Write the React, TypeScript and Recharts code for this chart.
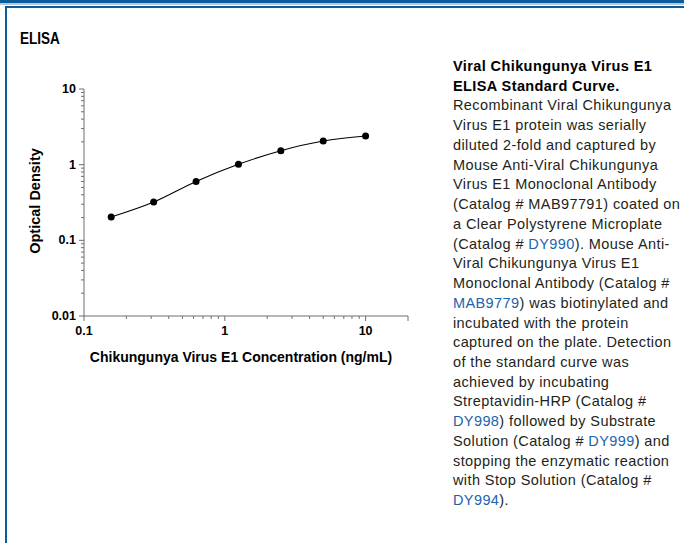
import React from "react";
import { LineChart, Line, XAxis, YAxis } from "recharts";

const concentrations = [0.156, 0.3125, 0.625, 1.25, 2.5, 5, 10];
const opticalDensity = [0.203, 0.32, 0.6, 1.01, 1.53, 2.05, 2.39];

const xMajorTicks = [0.1, 1, 10];
const xTicks = [0.1, 0.2, 0.3, 0.4, 0.5, 0.6, 0.7, 0.8, 0.9, 1, 2, 3, 4, 5, 6, 7, 8, 9, 10, 20];
const yMajorTicks = [0.01, 0.1, 1, 10];
const yTicks = [
  0.01, 0.02, 0.03, 0.04, 0.05, 0.06, 0.07, 0.08, 0.09,
  0.1, 0.2, 0.3, 0.4, 0.5, 0.6, 0.7, 0.8, 0.9,
  1, 2, 3, 4, 5, 6, 7, 8, 9, 10,
];

const sectionTitle = "ELISA";
const xTitle = "Chikungunya Virus E1 Concentration (ng/mL)";
const yTitle = "Optical Density";

type Seg = { t: string; link?: boolean };
const captionTitle = ["Viral Chikungunya Virus E1", "ELISA Standard Curve."];
const captionLines: Seg[][] = [
  [{ t: "Recombinant Viral Chikungunya" }],
  [{ t: "Virus E1 protein was serially" }],
  [{ t: "diluted 2-fold and captured by" }],
  [{ t: "Mouse Anti-Viral Chikungunya" }],
  [{ t: "Virus E1 Monoclonal Antibody" }],
  [{ t: "(Catalog # MAB97791) coated on" }],
  [{ t: "a Clear Polystyrene Microplate" }],
  [{ t: "(Catalog # " }, { t: "DY990", link: true }, { t: "). Mouse Anti-" }],
  [{ t: "Viral Chikungunya Virus E1" }],
  [{ t: "Monoclonal Antibody (Catalog #" }],
  [{ t: "MAB9779", link: true }, { t: ") was biotinylated and" }],
  [{ t: "incubated with the protein" }],
  [{ t: "captured on the plate. Detection" }],
  [{ t: "of the standard curve was" }],
  [{ t: "achieved by incubating" }],
  [{ t: "Streptavidin-HRP (Catalog #" }],
  [{ t: "DY998", link: true }, { t: ") followed by Substrate" }],
  [{ t: "Solution (Catalog # " }, { t: "DY999", link: true }, { t: ") and" }],
  [{ t: "stopping the enzymatic reaction" }],
  [{ t: "with Stop Solution (Catalog #" }],
  [{ t: "DY994", link: true }, { t: ")." }],
];

const data = concentrations.map((c, i) => ({ x: c, y: opticalDensity[i] }));

const FONT = "'Liberation Sans', Arial, Helvetica, sans-serif";
const AXIS_COLOR = "#6e6e6e";

const XTick = (props: any) => {
  const { x, y, payload } = props;
  const v = payload.value;
  const major = xMajorTicks.includes(v) || v === 20;
  const showLabel = xMajorTicks.includes(v);
  return (
    <g>
      <line x1={x} x2={x} y1={y} y2={y + (major ? 5 : 3)} stroke={AXIS_COLOR} strokeWidth={1} />
      {showLabel && (
        <text x={x} y={y + 15} textAnchor="middle" dominantBaseline="central" fontFamily={FONT} fontWeight="bold" fontSize={12.5} fill="#000">
          {String(v)}
        </text>
      )}
    </g>
  );
};

const YTick = (props: any) => {
  const { x, y, payload } = props;
  const v = payload.value;
  const major = yMajorTicks.includes(v);
  return (
    <g>
      <line x1={x} x2={x - (major ? 5 : 3)} y1={y} y2={y} stroke={AXIS_COLOR} strokeWidth={1} />
      {major && (
        <text x={x - 8} y={y} textAnchor="end" dominantBaseline="central" fontFamily={FONT} fontWeight="bold" fontSize={12.5} fill="#000">
          {String(v)}
        </text>
      )}
    </g>
  );
};

export default function App() {
  return (
    <div style={{ position: "absolute", left: 0, top: 0, width: 684, height: 543, overflow: "hidden", background: "#fff", fontFamily: FONT }}>
      <div style={{ position: "absolute", left: 0, top: 0, width: 684, height: 3, background: "#0a5c9c" }} />
      <div style={{ position: "absolute", left: 0, top: 3, width: 684, height: 2, background: "#b9c6d3" }} />
      <div style={{ position: "absolute", left: 5, top: 6, width: 700, height: 600, borderLeft: "2px solid #0a5c9c", borderTop: "2px solid #0a5c9c", boxSizing: "border-box" }} />
      <div style={{ position: "absolute", left: 20, top: 28, fontSize: 16.5, fontWeight: "bold", color: "#000", lineHeight: "20px", transform: "scaleX(0.82)", transformOrigin: "left center" }}>{sectionTitle}</div>

      <div style={{ position: "absolute", left: 0, top: 0 }}>
        <LineChart width={440} height={380} data={data} margin={{ top: 89, right: 32, bottom: 34, left: 24 }}>
          <XAxis
            dataKey="x"
            type="number"
            scale="log"
            domain={[0.1, 20]}
            allowDataOverflow
            ticks={xTicks}
            interval={0}
            tick={<XTick />}
            tickLine={false}
            tickSize={0}
            tickMargin={0}
            height={30}
            axisLine={{ stroke: AXIS_COLOR, strokeWidth: 1 }}
          />
          <YAxis
            dataKey="y"
            type="number"
            scale="log"
            domain={[0.01, 10]}
            allowDataOverflow
            ticks={yTicks}
            interval={0}
            tick={<YTick />}
            tickLine={false}
            tickSize={0}
            tickMargin={0}
            width={60}
            axisLine={{ stroke: AXIS_COLOR, strokeWidth: 1 }}
          />
          <Line
            dataKey="y"
            type="monotone"
            stroke="#000"
            strokeWidth={1.1}
            dot={{ r: 3.5, fill: "#000", stroke: "#000", strokeWidth: 0 }}
            isAnimationActive={false}
          />
        </LineChart>
      </div>

      <div style={{ position: "absolute", left: 35, top: 201, transform: "translate(-50%, -50%) rotate(-90deg)", whiteSpace: "nowrap", fontSize: 14.5, fontWeight: "bold", color: "#000" }}>
        {yTitle}
      </div>
      <div style={{ position: "absolute", left: 241, top: 357, transform: "translate(-50%, -50%)", whiteSpace: "nowrap", fontSize: 14, fontWeight: "bold", color: "#000" }}>
        {xTitle}
      </div>

      <div style={{ position: "absolute", left: 453, top: 57, fontSize: 14.5, letterSpacing: "0.4px", lineHeight: "19.73px", color: "#231f20", whiteSpace: "nowrap" }}>
        {captionTitle.map((l, i) => (
          <div key={"t" + i} style={{ fontWeight: "bold", color: "#000" }}>{l}</div>
        ))}
        {captionLines.map((segs, i) => (
          <div key={"l" + i}>
            {segs.map((s, j) => (
              <span key={j} style={s.link ? { color: "#1b63ad" } : undefined}>{s.t}</span>
            ))}
          </div>
        ))}
      </div>
    </div>
  );
}
